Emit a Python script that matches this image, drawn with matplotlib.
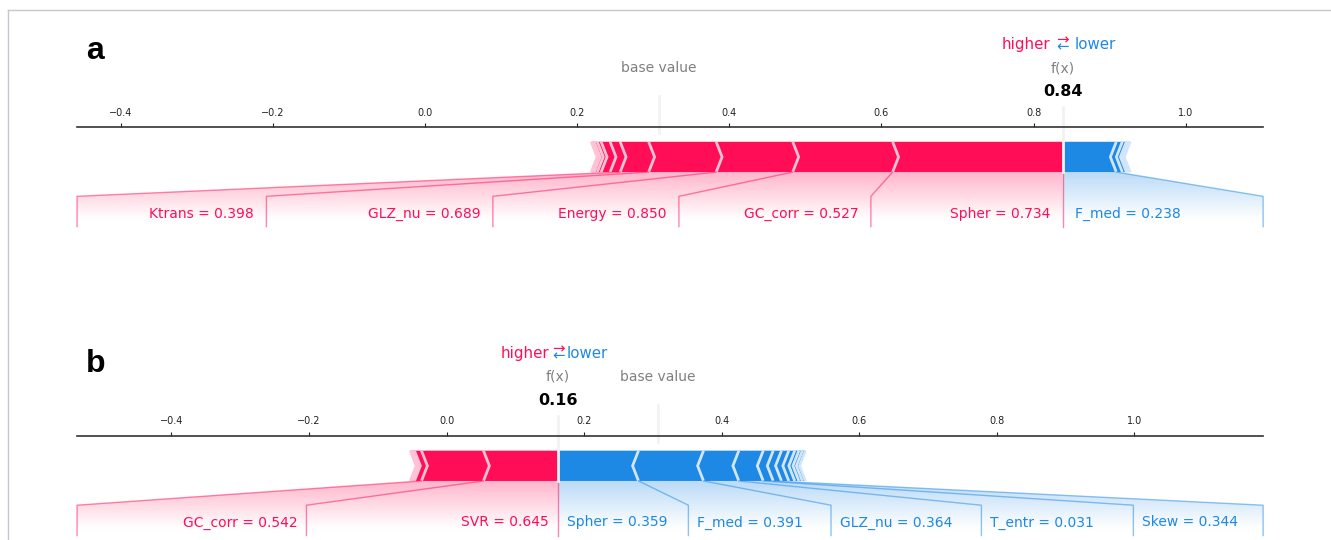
import numpy as np
import matplotlib
matplotlib.use("Agg")
import matplotlib.pyplot as plt
from matplotlib.patches import Polygon, PathPatch
from matplotlib.path import Path
from matplotlib.lines import Line2D
from matplotlib.colors import LinearSegmentedColormap
from matplotlib.ticker import MultipleLocator

# shared expected model output
base_value = 0.307

# case a: features pushing the prediction up (largest first, next to f(x))
a_pos_names = ['Spher', 'GC_corr', 'Energy', 'GLZ_nu', 'Ktrans']
a_pos_values = ['0.734', '0.527', '0.850', '0.689', '0.398']
a_pos_shap = [0.2237, 0.1314, 0.1007, 0.0888, 0.0375, 0.0132, 0.0118, 0.005, 0.004, 0.003, 0.001]
# case a: features pushing the prediction down
a_neg_names = ['F_med']
a_neg_values = ['0.238']
a_neg_shap = [0.0705, 0.0079, 0.0053, 0.003, 0.002]

# case b
b_pos_names = ['SVR', 'GC_corr']
b_pos_values = ['0.645', '0.542']
b_pos_shap = [0.1084, 0.0901, 0.0102, 0.003, 0.002, 0.001]
b_neg_names = ['Spher', 'F_med', 'GLZ_nu', 'T_entr', 'Skew']
b_neg_values = ['0.359', '0.391', '0.364', '0.031', '0.344']
b_neg_shap = [0.117, 0.0945, 0.0513, 0.0355, 0.0145, 0.012, 0.0106, 0.0087, 0.006, 0.005, 0.0045]

RED = '#FF0D57'
RED_LIGHT = '#FFC3D5'
BLUE = '#1E88E5'
BLUE_LIGHT = '#D1E6FA'
BAR_H = 0.1


def draw_bars(ax, out_value, shap_vals, positive, sep_width):
    pre = out_value
    polys, seps = [], []
    for i, eff in enumerate(shap_vals):
        if positive:
            left, right = pre - eff, pre
            pre = left
            indent = sep_width
            sep_pos = left
            dark, light = RED, RED_LIGHT
        else:
            left, right = pre, pre + eff
            pre = right
            indent = -sep_width
            sep_pos = right
            dark, light = BLUE, BLUE_LIGHT

        if i == 0:
            if positive:
                pts = [[left, 0], [right, 0], [right, BAR_H], [left, BAR_H],
                       [left + indent, BAR_H / 2]]
            else:
                pts = [[right, 0], [left, 0], [left, BAR_H], [right, BAR_H],
                       [right + indent, BAR_H / 2]]
        else:
            pts = [[left, 0], [right, 0], [right + indent * 0.9, BAR_H / 2],
                   [right, BAR_H], [left, BAR_H], [left + indent * 0.9, BAR_H / 2]]
        polys.append(Polygon(pts, closed=True, facecolor=dark, linewidth=0))
        seps.append(Polygon([[sep_pos, 0], [sep_pos + indent, BAR_H / 2], [sep_pos, BAR_H]],
                            closed=False, fill=False, edgecolor=light, lw=2))
    for p in polys + seps:
        ax.add_patch(p)


def draw_labels(ax, out_value, shap_vals, names, values, positive, slots, offset, xlim):
    if positive:
        color, ha, sign, edge = RED, 'right', 1, xlim[0]
        shade = [(1.0, 13 / 255, 87 / 255), (1, 1, 1)]
        ln = Line2D([out_value, out_value], [0, -0.18], lw=1, alpha=0.5, color=color)
        ln.set_clip_on(False)
        ax.add_line(ln)
    else:
        color, ha, sign, edge = BLUE, 'left', -1, xlim[1]
        shade = [(30 / 255, 136 / 255, 229 / 255), (1, 1, 1)]

    start = out_value
    val = out_value
    box = out_value
    for k, (name, v) in enumerate(zip(names, values)):
        val = val - sign * shap_vals[k]
        ax.text(start - sign * offset, -0.15, name + ' = ' + v, fontsize=10,
                color=color, ha=ha, va='baseline')
        box = start - sign * slots[k] if k < len(slots) else edge
        ln = Line2D([val, box, box], [0, -0.08, -0.18], lw=1, alpha=0.5, color=color)
        ln.set_clip_on(False)
        ax.add_line(ln)
        start = box

    # faded shading under the labelled part of the bar
    path = Path([[out_value, 0], [val, 0], [box, -0.08], [box, -0.2],
                 [out_value, -0.2], [out_value, 0]])
    patch = PathPatch(path, facecolor='none', edgecolor='none')
    ax.add_patch(patch)
    cm = LinearSegmentedColormap.from_list('cm', shade)
    _, z = np.meshgrid(np.linspace(0, 10), np.linspace(-10, 10))
    im = ax.imshow(z, interpolation='quadric', cmap=cm, vmax=0.01, alpha=0.3,
                   origin='lower', extent=[out_value, box, 0, -0.31], aspect='auto')
    im.set_clip_path(patch)


def force_plot(ax, pos_shap, pos_names, pos_values, neg_shap, neg_names, neg_values,
               xlim, pos_slots, neg_slots):
    total_pos = sum(pos_shap)
    total_neg = sum(neg_shap)
    out_value = base_value + total_pos - total_neg
    offset = (total_pos + total_neg) * 0.023

    ax.set_xlim(*xlim)
    ax.set_ylim(-0.5, 0.15)
    sep_width = (xlim[1] - xlim[0]) / 200

    draw_bars(ax, out_value, neg_shap, False, sep_width)
    draw_bars(ax, out_value, pos_shap, True, sep_width)
    draw_labels(ax, out_value, neg_shap, neg_names, neg_values, False, neg_slots, offset, xlim)
    draw_labels(ax, out_value, pos_shap, pos_names, pos_values, True, pos_slots, offset, xlim)

    # higher / lower legend
    ax.text(out_value - offset, 0.405, 'higher', fontsize=10.8, color=RED, ha='right')
    ax.text(out_value + offset, 0.405, 'lower', fontsize=10.8, color=BLUE, ha='left')
    ax.text(out_value, 0.4, r'$\leftarrow$', fontsize=10.8, color=BLUE, ha='center')
    ax.text(out_value, 0.425, r'$\rightarrow$', fontsize=10.8, color=RED, ha='center')

    # base value marker
    ln = Line2D([base_value, base_value], [0.13, 0.25], lw=2, color='#F2F2F2')
    ln.set_clip_on(False)
    ax.add_line(ln)
    t = ax.text(base_value, 0.33, 'base value', fontsize=10, alpha=0.5, ha='center')
    t.set_bbox(dict(facecolor='white', edgecolor='white'))

    # model output marker
    ln = Line2D([out_value, out_value], [0, 0.24], lw=2, color='#F2F2F2')
    ln.set_clip_on(False)
    ax.add_line(ln)
    t = ax.text(out_value, 0.25, '{0:.2f}'.format(out_value), fontsize=11.5,
                fontweight='bold', ha='center')
    t.set_bbox(dict(facecolor='white', edgecolor='white'))
    t = ax.text(out_value, 0.33, 'f(x)', fontsize=10, alpha=0.5, ha='center')
    t.set_bbox(dict(facecolor='white', edgecolor='white'))

    ax.set_xlim(*xlim)
    ax.set_ylim(-0.5, 0.15)
    ax.xaxis.tick_top()
    ax.xaxis.set_major_locator(MultipleLocator(0.2))
    ax.tick_params(axis='x', labelsize=7, length=3, width=0.8, pad=3.5, colors='#222222')
    ax.set_yticks([])
    for key, spine in ax.spines.items():
        if key != 'top':
            spine.set_visible(False)
    ax.spines['top'].set_linewidth(1.2)
    ax.spines['top'].set_color('#333333')


fig = plt.figure(figsize=(13.31, 5.40), dpi=100)

ax_a = fig.add_axes([0.0579, 0.4007, 0.8911, 0.3648])
force_plot(ax_a, a_pos_shap, a_pos_names, a_pos_values,
           a_neg_shap, a_neg_names, a_neg_values,
           xlim=(-0.458, 1.102),
           pos_slots=[0.2523, 0.2525, 0.2447, 0.2979], neg_slots=[])

ax_b = fig.add_axes([0.0579, -0.1713, 0.8911, 0.3648])
force_plot(ax_b, b_pos_shap, b_pos_names, b_pos_values,
           b_neg_shap, b_neg_names, b_neg_values,
           xlim=(-0.537, 1.187),
           pos_slots=[0.3657], neg_slots=[0.1895, 0.2073, 0.2186, 0.2209])

# panel letters
fig.text(86 / 1331, 1 - 59 / 540, 'a', fontsize=23, fontweight='bold',
         family='Liberation Sans', va='baseline')
fig.text(86 / 1331, 1 - 372 / 540, 'b', fontsize=23, fontweight='bold',
         family='Liberation Sans', va='baseline')

# thin frame around the figure
fx, fy = 8 / 1331, 1 - 10 / 540
fig.add_artist(Line2D([fx, 1], [fy, fy], transform=fig.transFigure, color='#c6c6ce', lw=1))
fig.add_artist(Line2D([fx, fx], [0, fy], transform=fig.transFigure, color='#c6c6ce', lw=1))

fig.savefig('out.png', dpi=100)
